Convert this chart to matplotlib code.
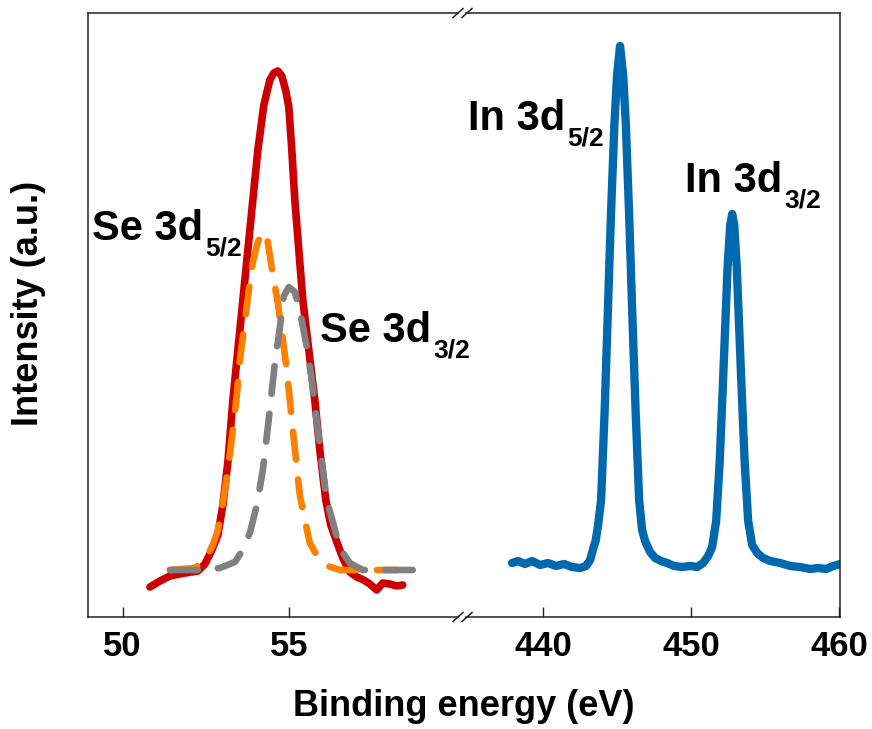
import matplotlib
matplotlib.use("Agg")
import matplotlib.pyplot as plt
from matplotlib.lines import Line2D

plt.rcParams['font.family'] = ['Liberation Sans', 'DejaVu Sans']
plt.rcParams['font.weight'] = 'bold'

# ---- Se 3d region (binding energy in eV, intensity in a.u.) ----
se_energy = [50.82, 51.12, 51.42, 51.87, 52.26, 52.47, 52.68, 52.86, 53.01, 53.16,
             53.31, 53.46, 53.61, 53.76, 53.91, 54.06, 54.24, 54.42, 54.54, 54.66,
             54.78, 54.90, 54.99, 55.08, 55.17, 55.29, 55.41, 55.59, 55.77, 55.92,
             56.10, 56.25, 56.43, 56.61, 56.82, 57.03, 57.24, 57.42, 57.63, 57.81,
             58.02, 58.23, 58.41]
se_measured = [30, 36, 41, 44, 46, 53, 67, 82, 112, 155,
               217, 267, 317, 367, 417, 467, 512, 537, 544, 546,
               541, 526, 510, 467, 417, 367, 317, 267, 217, 167,
               117, 92, 75, 59, 45, 40, 37, 33, 27, 34,
               33, 31, 32]

se52_energy = [51.42, 52.17, 52.47, 52.71, 52.86, 53.01, 53.16, 53.31, 53.43, 53.52,
               53.67, 53.79, 53.91, 54.06, 54.21, 54.33, 54.48, 54.66, 54.81, 54.93,
               55.11, 55.32, 55.47, 55.62, 55.86, 56.16, 56.52, 58.23]
se52_fit = [47, 49, 57, 72, 87, 114, 147, 187, 222, 257,
            295, 327, 355, 375, 385, 381, 349, 314, 277, 247,
            187, 122, 97, 74, 60, 51, 47, 47]

se32_energy = [51.42, 52.38, 52.92, 53.37, 53.61, 53.82, 54.03, 54.21, 54.42, 54.57,
               54.72, 54.84, 54.99, 55.17, 55.32, 55.53, 55.68, 55.86, 56.01, 56.13,
               56.31, 56.52, 56.82, 57.21, 58.71]
se32_fit = [47, 47, 49, 55, 67, 84, 112, 147, 207, 254,
            289, 321, 330, 325, 307, 270, 237, 187, 147, 117,
            95, 69, 54, 47, 47]

# ---- In 3d region ----
in_energy = [437.91, 438.31, 438.78, 439.26, 439.80, 440.34, 440.88, 441.42, 441.96, 442.50,
             442.91, 443.18, 443.38, 443.55, 443.72, 443.92, 444.16, 444.39, 444.59, 444.82,
             445.00, 445.20, 445.41, 445.59, 445.81, 446.01, 446.25, 446.49, 446.69, 446.89,
             447.23, 447.57, 447.97, 448.38, 448.85, 449.39, 449.93, 450.41, 450.81, 451.15,
             451.42, 451.69, 451.93, 452.13, 452.46, 452.64, 452.77, 452.91, 453.08, 453.41,
             453.61, 453.85, 454.12, 454.46, 454.86, 455.34, 456.01, 456.69, 457.36, 458.04,
             458.58, 459.12, 459.59, 460.07]
in_measured = [54, 56, 53, 56, 52, 54, 51, 53, 50, 49,
               51, 57, 68, 76, 92, 117, 206, 311, 404, 493,
               542, 571, 542, 493, 404, 311, 206, 117, 87, 76,
               65, 59, 56, 54, 51, 50, 51, 50, 54, 61,
               70, 96, 156, 227, 350, 392, 403, 392, 350, 227,
               156, 96, 72, 64, 59, 56, 54, 51, 50, 48,
               49, 48, 51, 53]

se_ticks = [50, 55]
in_ticks = [440, 450, 460]

W, H = 872, 729
fig = plt.figure(figsize=(W / 100, H / 100), dpi=100)


def px_box(x0, x1, y0, y1):
    return [x0 / W, 1 - y1 / H, (x1 - x0) / W, (y1 - y0) / H]


ax_se = fig.add_axes(px_box(88, 458, 13, 617))
ax_in = fig.add_axes(px_box(466, 840, 13, 617))

ax_se.plot(se_energy, se_measured, color='#CC0000', lw=5.5,
           solid_joinstyle='round', solid_capstyle='round', zorder=2)
ax_se.plot(se52_energy, se52_fit, color='#FF8000', lw=4.8, dashes=(4.2, 3.0),
           dash_capstyle='round', zorder=3)
ax_se.plot(se32_energy, se32_fit, color='#808080', lw=4.8, dashes=(4.2, 3.0),
           dash_capstyle='round', zorder=3)

ax_in.plot(in_energy, in_measured, color='#0069AD', lw=6,
           solid_joinstyle='round', solid_capstyle='round')

ax_se.set_xlim(48.96, 60.07)
ax_in.set_xlim(434.8, 460.05)
ax_se.set_xticks(se_ticks)
ax_in.set_xticks(in_ticks)

for ax in (ax_se, ax_in):
    ax.set_ylim(0, 604)
    ax.set_yticks([])
    ax.tick_params(axis='x', direction='in', length=7, width=1.0,
                   labelsize=25, pad=9, color='#222222')
    for lab in ax.get_xticklabels():
        lab.set_fontweight('bold')
    for sp in ax.spines.values():
        sp.set_linewidth(1.1)
        sp.set_color('#222222')
    ax.patch.set_alpha(0)

ax_se.spines['right'].set_visible(False)
ax_in.spines['left'].set_visible(False)

# break marks on the top and bottom frame lines
for xc in (458, 467):
    for yc in (13, 617):
        fig.add_artist(Line2D([(xc - 5) / W, (xc + 5) / W],
                              [1 - (yc + 4.5) / H, 1 - (yc - 4.5) / H],
                              transform=fig.transFigure, color='#222222', lw=1.1))

# peak labels with subscripts
def peak_label(ax, x, y, main, sub):
    t = ax.text(x, y, main, fontsize=30, fontweight='bold', ha='left', va='baseline')
    ax.annotate(sub, xy=(1, y), xycoords=(t, 'data'), xytext=(1.5, -11),
                textcoords='offset points', fontsize=19, fontweight='bold',
                ha='left', va='baseline')


peak_label(ax_se, 49.08, 377, "Se 3d", "5/2")
peak_label(ax_se, 55.93, 275, "Se 3d", "3/2")
peak_label(ax_in, 434.93, 487, "In 3d", "5/2")
peak_label(ax_in, 449.6, 425, "In 3d", "3/2")

fig.text(464 / W, 1 - 706 / H, "Binding energy (eV)", fontsize=26, fontweight='bold',
         ha='center', va='center')
fig.text(29 / W, 1 - 303 / H, "Intensity (a.u.)", fontsize=26, fontweight='bold',
         ha='center', va='center', rotation=90)

fig.savefig("out.png", dpi=100)
